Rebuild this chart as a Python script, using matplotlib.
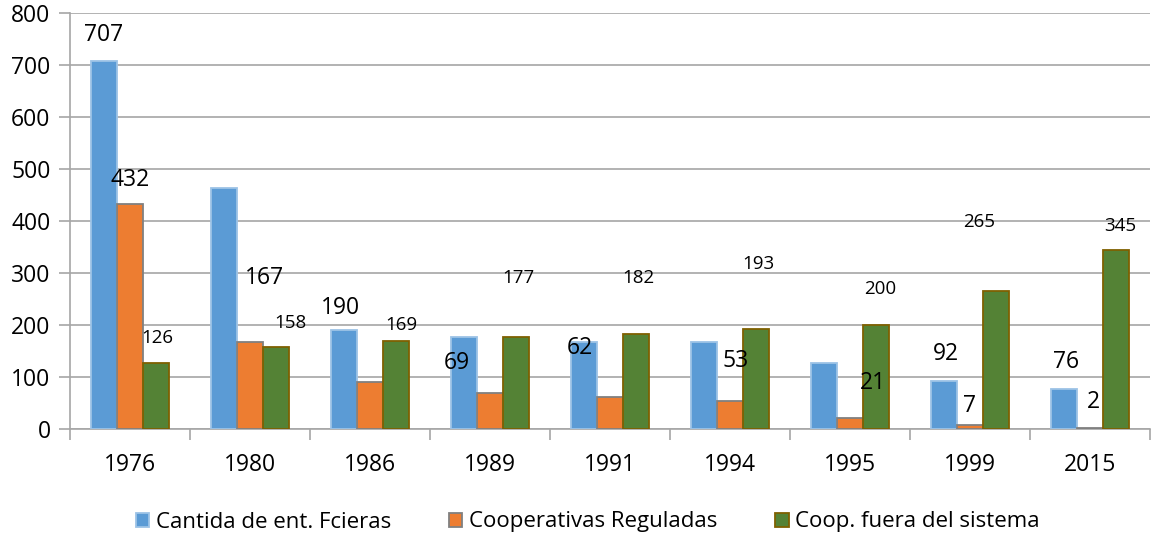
import matplotlib.pyplot as plt
import numpy as np

plt.rcParams['font.family'] = ['Open Sans', 'DejaVu Sans']

years = ["1976", "1980", "1986", "1989", "1991", "1994", "1995", "1999", "2015"]
entidades = [707, 463, 190, 176, 167, 167, 127, 92, 77]
reguladas = [432, 168, 90, 69, 62, 53, 21, 7, 2]
fuera = [126, 158, 169, 177, 182, 193, 200, 265, 345]

names = ["Cantida de ent. Fcieras", "Cooperativas Reguladas", "Coop. fuera del sistema"]
colors = ["#5B9BD5", "#ED7D31", "#548235"]
edges = ["#9DC3E6", "#808080", "#7F6000"]

# data labels as they sit in the original chart (category index, x shift, y)
blue_lab = [(0, -0.22, 758, "707"), (2, -0.25, 233, "190"), (7, -0.2, 144, "92"), (8, -0.2, 128, "76")]
orange_lab = [(0, 0.0, 479, "432"), (1, 0.12, 290, "167"), (3, -0.28, 127, "69"), (4, -0.25, 156, "62"),
              (5, 0.05, 131, "53"), (6, 0.19, 88, "21"), (7, 0.0, 44, "7"), (8, 0.03, 52, "2")]
green_dx = [0.225, 0.34, 0.26, 0.233, 0.233, 0.233, 0.25, 0.075, 0.25]
green_y = [175, 204, 200, 290, 290, 317, 269, 398, 390]

fig = plt.figure(figsize=(11.53, 5.40), dpi=100)
ax = fig.add_axes([70/1153, 1-429/540, 1080/1153, 416/540])

x = np.arange(len(years))
w = 0.216
series = [entidades, reguladas, fuera]
for k, vals in enumerate(series):
    ax.bar(x + (k-1)*w, vals, w, color=colors[k], edgecolor=edges[k], linewidth=1.3, label=names[k], zorder=3)

for i, dx, y, t in blue_lab + orange_lab:
    ax.text(i + dx, y, t, ha='center', va='center', fontsize=16.5, color='black', zorder=4)
for i in range(len(years)):
    ax.text(i + green_dx[i], green_y[i], str(fuera[i]), ha='center', va='center', fontsize=13.5, color='black', zorder=4)

ax.set_xlim(-0.5, len(years)-0.5)
ax.set_ylim(0, 800)
ax.set_yticks(range(0, 801, 100))
ax.set_xticks(x)
ax.set_xticklabels(years)
ax.set_xticks(np.arange(-0.5, len(years)), minor=True)
ax.tick_params(axis='x', which='major', length=0, labelsize=16.5, pad=17)
ax.tick_params(axis='x', which='minor', length=8, color='#A6A6A6', width=1.2)
ax.tick_params(axis='y', length=8, color='#A6A6A6', width=1.2, labelsize=16.5, pad=6)
ax.grid(axis='y', color='#A6A6A6', linewidth=1.2, zorder=0)
for s in ['top', 'right']:
    ax.spines[s].set_visible(False)
for s in ['left', 'bottom']:
    ax.spines[s].set_color('#A6A6A6')
    ax.spines[s].set_linewidth(1.2)

fig.legend(loc='center', bbox_to_anchor=(588/1153, 1-522/540), ncol=3, frameon=False,
           fontsize=16, handlelength=0.6, handleheight=0.6, handletextpad=0.3, columnspacing=2.6)

plt.savefig('out.png', dpi=100)
